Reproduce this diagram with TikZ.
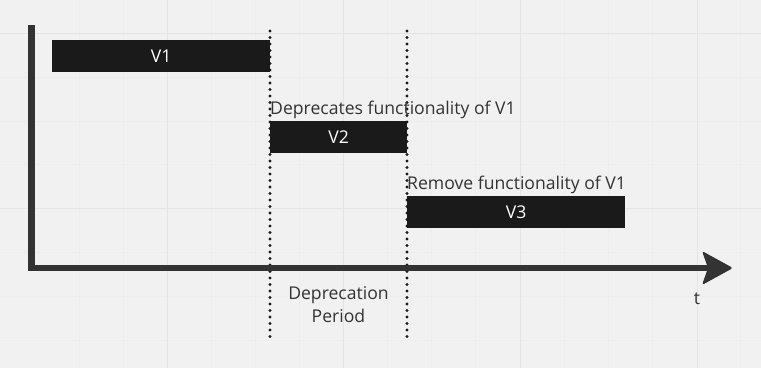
\documentclass[tikz,border=0pt]{standalone}
\usepackage{fontspec}
\setmainfont{Open Sans}
\definecolor{bgc}{HTML}{F1F1F1}
\definecolor{gridc}{HTML}{E4E4E4}
\definecolor{subgridc}{HTML}{EDEDED}
\definecolor{barc}{HTML}{1A1A1A}
\definecolor{axisc}{HTML}{333333}
\definecolor{txtc}{HTML}{333333}
\tikzset{
  verbar/.style={fill=barc, draw=none, text=white, minimum height=32pt, inner sep=0pt, font=\fontsize{17.6}{20}\selectfont, anchor=west},
  lbl/.style={text=txtc, inner sep=0pt, font=\fontsize{17.6}{23}\selectfont},
  dotline/.style={line width=3.2pt, line cap=round, dash pattern=on 0pt off 6.5pt, color=barc},
  axisline/.style={color=axisc, line width=6.5pt},
}
\begin{document}
\begin{tikzpicture}[x=1pt,y=-1pt]
\useasboundingbox (0,0) rectangle (761,368);
\fill[bgc] (0,0) rectangle (761,368);
% faint sub grid
\foreach \gx in {79,123,211,255,299,387,431,475,564,608,652,740} {\draw[subgridc, line width=0.6pt] (\gx,0) -- (\gx,368);}
\foreach \gy in {77,121,164,252,296,340} {\draw[subgridc, line width=0.6pt] (0,\gy) -- (761,\gy);}
% main grid
\foreach \gx in {167,343,520,697} {\draw[gridc, line width=1pt] (\gx,0) -- (\gx,368);}
\foreach \gy in {33,208} {\draw[gridc, line width=1pt] (0,\gy) -- (761,\gy);}

% dotted lines
\coordinate (d1t) at (270,31);
\coordinate (d1b) at (270,337);
\coordinate (d2t) at (407,31);
\coordinate (d2b) at (407,337);
\draw[dotline] (d1t) -- (d1b);
\draw[dotline] (d2t) -- (d2b);

% bars
\node[verbar, minimum width=218pt] (v1) at (52,56) {V1};
\node[verbar, minimum width=137pt] (v2) at (270,137) {V2};
\node[verbar, minimum width=218pt] (v3) at (407,212) {V3};

% labels
\node[lbl, anchor=base west] (dep) at (270,114) {Deprecates functionality of V1};
\node[lbl, anchor=base west] (rem) at (407,189) {Remove functionality of V1};
\node[lbl, align=center, anchor=north] (per) at (338.5,286) {Deprecation\\Period};
\node[lbl, anchor=base] (t) at (697,304) {t};

% axes
\coordinate (o) at (31.5,268);
\coordinate (ytop) at (31.5,25);
\coordinate (xend) at (708,268);
\draw[axisline, line cap=butt] (31.5,271) -- (ytop);
\draw[axisline] (28,268) -- (xend);
\fill[axisc, rounded corners=2.5pt] (733,268) -- (702,251) -- (708,268) -- (702,285) -- cycle;
\end{tikzpicture}
\end{document}
